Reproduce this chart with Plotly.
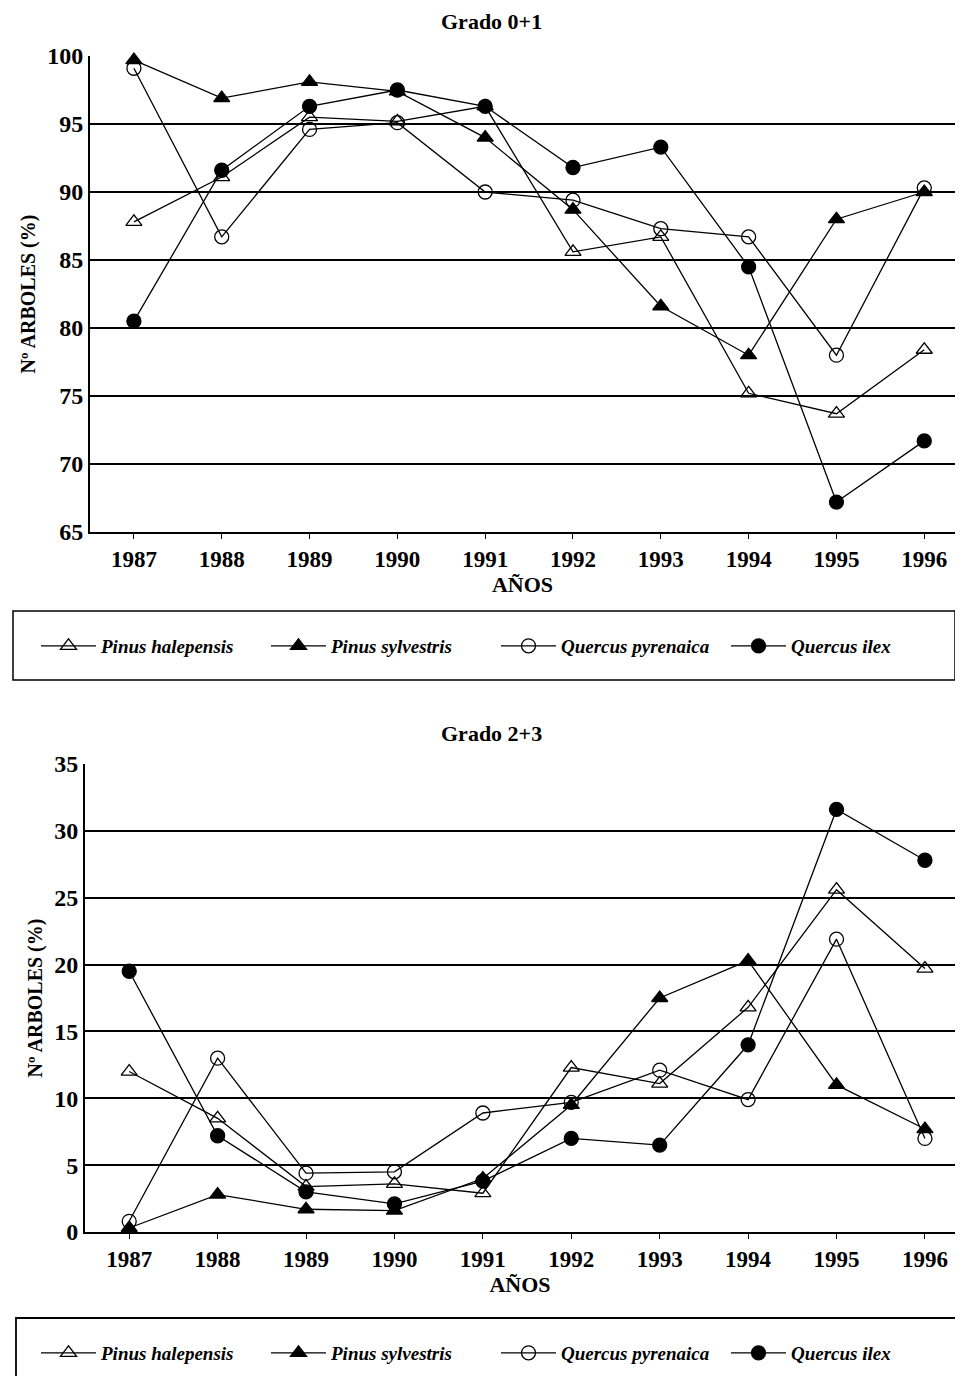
import plotly.graph_objects as go

# page body has an 8px margin; the figure is sized to fit inside the window
OFF = 8
W, H = 963 - 2 * OFF, 1384 - 2 * OFF

years = [1987, 1988, 1989, 1990, 1991, 1992, 1993, 1994, 1995, 1996]
year_labels = [str(y) for y in years]
species = ["Pinus halepensis", "Pinus sylvestris", "Quercus pyrenaica", "Quercus ilex"]

# Grado 0+1
g01_halepensis = [87.8, 91.1, 95.5, 95.2, 96.3, 85.6, 86.7, 75.2, 73.7, 78.4]
g01_sylvestris = [99.7, 96.9, 98.1, 97.4, 94.0, 88.7, 81.6, 78.0, 88.0, 90.0]
g01_pyrenaica = [99.1, 86.7, 94.6, 95.1, 90.0, 89.4, 87.3, 86.7, 78.0, 90.3]
g01_ilex = [80.5, 91.6, 96.3, 97.5, 96.3, 91.8, 93.3, 84.5, 67.2, 71.7]

# Grado 2+3
g23_halepensis = [12.0, 8.5, 3.4, 3.6, 2.9, 12.3, 11.1, 16.8, 25.6, 19.7]
g23_sylvestris = [0.3, 2.8, 1.7, 1.6, 4.0, 9.5, 17.5, 20.3, 11.0, 7.7]
g23_pyrenaica = [0.8, 13.0, 4.4, 4.5, 8.9, 9.7, 12.1, 9.9, 21.9, 7.0]
g23_ilex = [19.5, 7.2, 3.0, 2.1, 3.8, 7.0, 6.5, 14.0, 31.6, 27.8]

top_ticks = [65, 70, 75, 80, 85, 90, 95, 100]
bot_ticks = [0, 5, 10, 15, 20, 25, 30, 35]

symbols = ["triangle-up-open", "triangle-up", "circle-open", "circle"]

SERIF = "Liberation Serif"


def px_x(p):
    return min(1.0, max(0.0, (p - OFF) / W))


def px_y(p):
    return 1 - (p - OFF) / H


fig = go.Figure()

top_series = [g01_halepensis, g01_sylvestris, g01_pyrenaica, g01_ilex]
bot_series = [g23_halepensis, g23_sylvestris, g23_pyrenaica, g23_ilex]

for name, vals, sym in zip(species, top_series, symbols):
    fig.add_trace(go.Scatter(
        x=years, y=vals, name=name, mode="lines+markers",
        line=dict(color="black", width=1.3),
        marker=dict(symbol=sym, size=14, color="black", line=dict(color="black", width=1.3)),
        xaxis="x", yaxis="y", legend="legend", cliponaxis=False,
    ))

for name, vals, sym in zip(species, bot_series, symbols):
    fig.add_trace(go.Scatter(
        x=years, y=vals, name=name, mode="lines+markers",
        line=dict(color="black", width=1.3),
        marker=dict(symbol=sym, size=14, color="black", line=dict(color="black", width=1.3)),
        xaxis="x2", yaxis="y2", legend="legend2", cliponaxis=False,
    ))

xtickfont = dict(family=SERIF, size=23, color="black", weight="bold")
ytickfont = dict(family=SERIF, size=24, color="black", weight="bold")
titlefont = dict(family=SERIF, size=22, color="black", weight="bold")
ytitlefont = dict(family=SERIF, size=20, color="black", weight="bold")
legfont = dict(family=SERIF, size=19, color="black", weight="bold", style="italic")

common_x = dict(
    tickmode="array", tickvals=years, ticktext=year_labels,
    showline=True, linecolor="black", linewidth=2,
    ticks="outside", ticklen=5, tickwidth=1, tickcolor="black",
    showgrid=False, zeroline=False, tickfont=xtickfont, automargin=False,
    title=dict(text="AÑOS", font=titlefont, standoff=3),
)
common_y = dict(
    showline=True, linecolor="black", linewidth=2,
    ticks="", showgrid=True, gridcolor="black", gridwidth=1.5,
    zeroline=False, tickfont=ytickfont, automargin=False,
    title=dict(text="Nº ARBOLES (%)", font=ytitlefont, standoff=6),
)

legend_common = dict(
    orientation="h", xanchor="left", yanchor="middle",
    font=legfont, entrywidth=160, entrywidthmode="pixels", itemwidth=55,
    bgcolor="rgba(0,0,0,0)", borderwidth=0,
)

fig.update_layout(
    width=W, height=H, autosize=False,
    margin=dict(l=0, r=0, t=0, b=0, autoexpand=False),
    paper_bgcolor="white", plot_bgcolor="white",
    xaxis=dict(common_x, domain=[px_x(90), 1.0], range=[1986.5, 1996.35], anchor="y"),
    yaxis=dict(common_y, domain=[px_y(532), px_y(56)], range=[65, 100],
               tickvals=top_ticks, anchor="x"),
    xaxis2=dict(common_x, domain=[px_x(85), 1.0], range=[1986.5, 1996.34], anchor="y2"),
    yaxis2=dict(common_y, domain=[px_y(1232), px_y(764)], range=[0, 35],
                tickvals=bot_ticks, anchor="x2"),
    legend=dict(legend_common, x=px_x(36), y=px_y(646)),
    legend2=dict(legend_common, x=px_x(36), y=px_y(1353)),
    showlegend=True,
    annotations=[
        dict(text="Grado 0+1", x=px_x(491), y=px_y(22), xref="paper", yref="paper",
             showarrow=False, font=titlefont, xanchor="center", yanchor="middle"),
        dict(text="Grado 2+3", x=px_x(491), y=px_y(733), xref="paper", yref="paper",
             showarrow=False, font=titlefont, xanchor="center", yanchor="middle"),
    ],
    shapes=[
        dict(type="rect", xref="paper", yref="paper",
             x0=px_x(13), x1=1.0, y0=px_y(680), y1=px_y(611),
             line=dict(color="black", width=1.5)),
        dict(type="rect", xref="paper", yref="paper",
             x0=px_x(16), x1=1.05, y0=-0.05, y1=px_y(1318),
             line=dict(color="black", width=1.8)),
    ],
)

fig.write_html("out.html")
